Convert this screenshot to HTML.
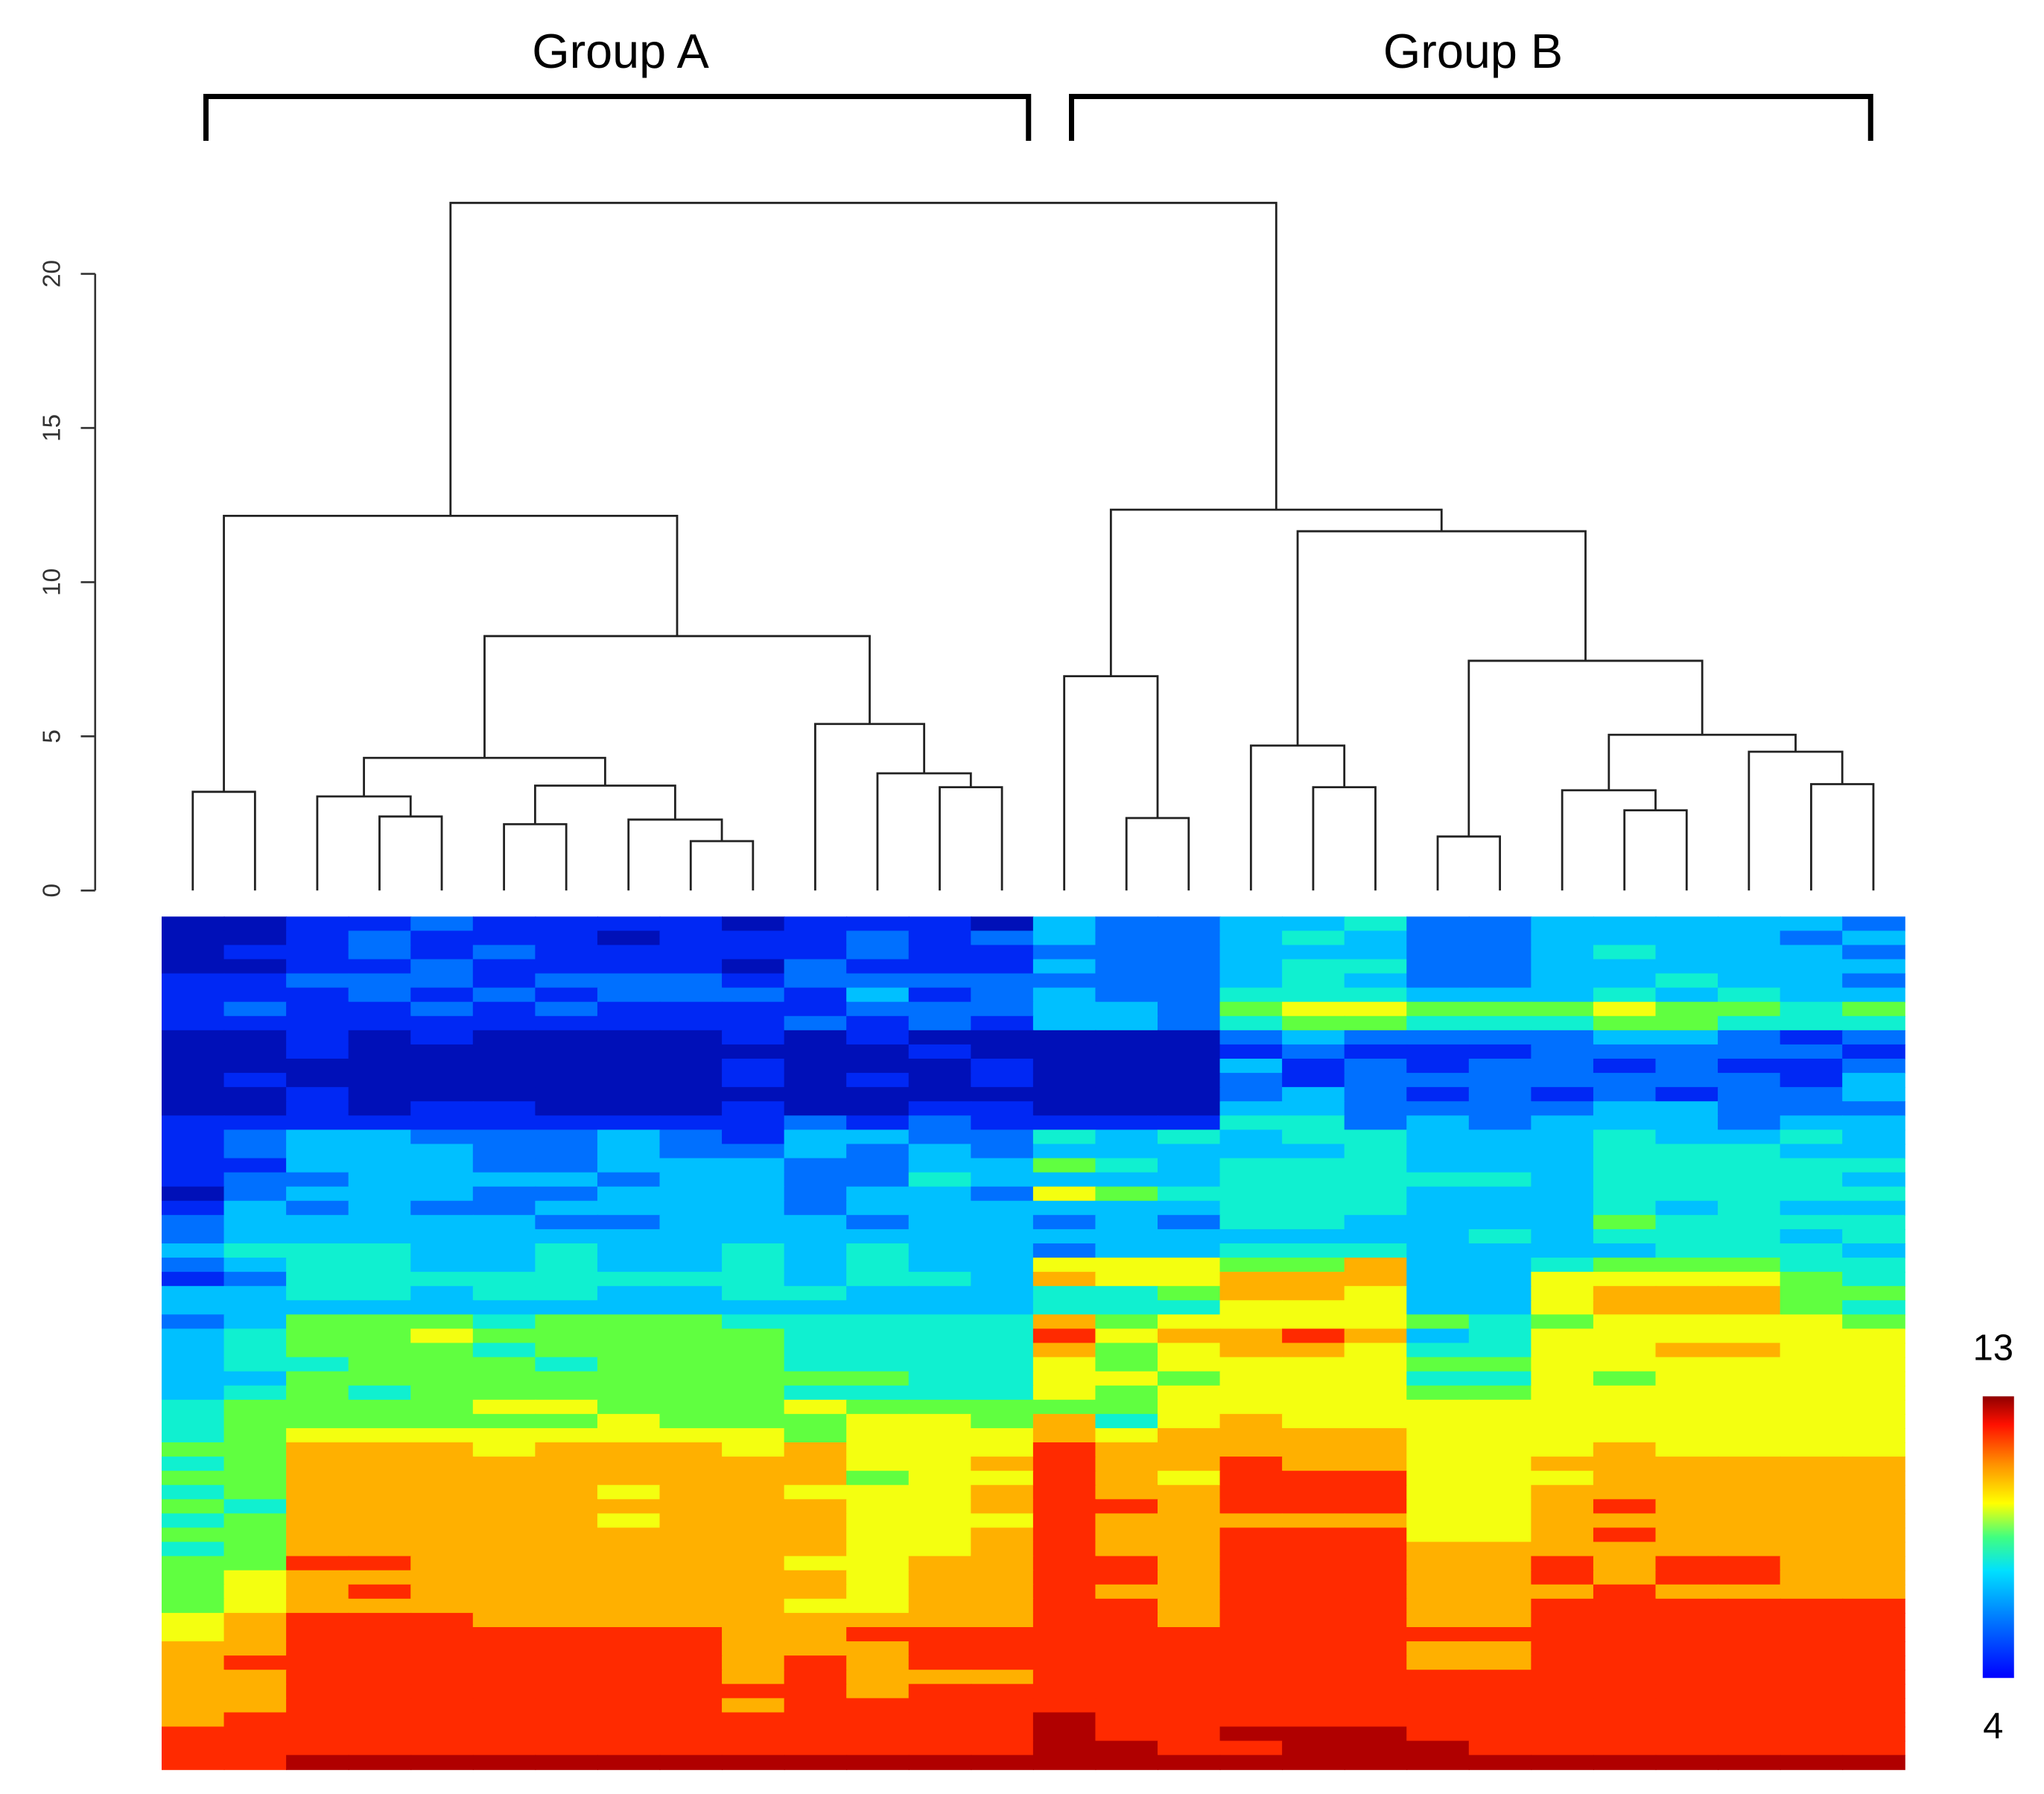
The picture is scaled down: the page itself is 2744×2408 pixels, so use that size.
<!DOCTYPE html>
<html><head><meta charset="utf-8"><style>
html,body{margin:0;padding:0;background:#fff;}
svg{display:block;}
</style></head><body>
<svg id="chart" width="2744" height="2408" viewBox="0 0 1568 1376" preserveAspectRatio="none" xmlns="http://www.w3.org/2000/svg" font-family="'Liberation Sans', sans-serif">
<rect width="1568" height="1376" fill="#fff"/>
<g fill="none" stroke="#000" stroke-width="4">
<path d="M158,108 V74 H789 V108"/></g>
<text x="476" y="52" font-size="37" text-anchor="middle">Group A</text>
<g fill="none" stroke="#000" stroke-width="4">
<path d="M822,108 V74 H1435 V108"/></g>
<text x="1130" y="52" font-size="37" text-anchor="middle">Group B</text>
<g id="axis"></g>
<g id="dendro"></g>
<g id="heat"></g>
<defs><linearGradient id="lg" x1="0" y1="1" x2="0" y2="0">
<stop offset="0" stop-color="#0000ff"/><stop offset="0.22" stop-color="#0080ff"/><stop offset="0.38" stop-color="#00e0ff"/><stop offset="0.5" stop-color="#40ff80"/><stop offset="0.62" stop-color="#ffff00"/><stop offset="0.76" stop-color="#ff9000"/><stop offset="0.9" stop-color="#ff1000"/><stop offset="1" stop-color="#900000"/></linearGradient></defs>
<rect x="1521" y="1071" width="24" height="216" fill="url(#lg)"/>
<text x="1529" y="1043" font-size="28" text-anchor="middle">13</text>
<text x="1529" y="1333" font-size="28" text-anchor="middle">4</text>
</svg>
<script>
const yTicks=[0,5,10,15,20];
const leafCount=28;
// merges: [left id, right id, height]; ids 0..27 leaves, merge m has id 28+m
const mergeLeft=[0,3,2,5,8,7,31,30,12,11,10,35,28,15,14,18,17,20,23,22,26,25,47,45,44,42,40];
const mergeRight=[1,4,29,6,9,32,33,34,13,36,37,38,39,16,41,19,43,21,24,46,27,48,49,50,51,52,53];
const mergeHeight=[3.2,2.4,3.05,2.15,1.6,2.3,3.4,4.3,3.35,3.8,5.4,8.25,12.15,2.35,6.95,3.35,4.7,1.75,2.6,3.25,3.45,4.5,5.05,7.45,11.65,12.35,22.3];
const heatRows=[
"0011211110111032233422333332","0012111011121232234322333323","0112121111121122233322343332","0011211110211132234422333333",
"1122212221222222234322334332","1112121222131232244433343433","1211212111122233256655565545","1111111111212133245544455444",
"0010100001010000023222233212","0010000000001000012111222221","0000000001000100031212212112","0100000001010100021222222213",
"0010000000000000023212121223","0010110001001100033222233222","1111111111212111144232333233","1233222321332243434433343343",
"1233322322323233333433344433","1133322333223354344433344444","1223333233224333344444344443","0233322333233265444433344444",
"1323223333233333344433343433","2333332233323323244333354444","2333333333333333333334344434","3444334334343323344433334443",
"2344334334343366655733455544","1244444444344376677733666654","3344344334433344577633677755","3333333333333344466633677754",
"2355545554444475666654566665","3455655555444486778734666666","3455545555444475677644667766","3445554555444465666655666666",
"3355555555554466566644656666","3454555555444465666655666666","4555566555655555666666666666","4555555655566574676666666666",
"4566666666566676777766666666","5577767776766687777766676666","4577777777766787787766777777","5577777777756687688866677777",
"4577777677666787788866777777","5477777777766788788866787777","4577777677766687777766777777","5577777777766787788866787777",
"4577777777766787788877777777","5588777777667788788877878877","5677777777767788788877878877","5678777777767787788877787777",
"5677777777667788788877888888","6788877777777788788877888888","6788888887788888888888888888","7788888887778888888877888888",
"7888888887878888888877888888","7788888887877788888888888888","7788888888878888888888888888","7788888887888888888888888888",
"7888888888888898888888888888","8888888888888898899988888888","8888888888888899889998888888","8899999999999999999999999999"];
const NS="http://www.w3.org/2000/svg";
const X0=124,X1=1461,HY0=703,HY1=1357;
const colW=(X1-X0)/leafCount;
const yScale=v=>683-v*23.65;
const leafX=i=>X0+colW*(i+0.5);
const colors=["#0010b8","#0028f4","#0070ff","#00c0ff","#10f0d0","#60ff40","#f4ff10","#ffb000","#ff2a00","#b00000"];
function mk(tag,attrs,parent){const e=document.createElementNS(NS,tag);for(const k in attrs)e.setAttribute(k,attrs[k]);parent.appendChild(e);return e;}
const ax=document.getElementById('axis');
const al=mk('line',{x1:73,x2:73,y1:yScale(20),y2:yScale(0),stroke:'#333','stroke-width':1.5},ax);


yTicks.forEach(t=>{
 const tl=mk('line',{x1:62,x2:73,y1:yScale(t),y2:yScale(t),stroke:'#333','stroke-width':1.5},ax);
 
 
 const tx=mk('text',{x:0,y:0,'font-size':19,fill:'#333','text-anchor':'middle',transform:`translate(46,${yScale(t)}) rotate(-90)`},ax);
 tx.textContent=t;
 
 
});
const dg=document.getElementById('dendro');
const nodeX=[],nodeH=[];
for(let i=0;i<leafCount;i++){nodeX[i]=leafX(i);nodeH[i]=0;}
for(let m=0;m<mergeHeight.length;m++){
 const a=mergeLeft[m],b=mergeRight[m],h=mergeHeight[m],id=leafCount+m;
 nodeX[id]=(nodeX[a]+nodeX[b])/2;nodeH[id]=h;
 const p=mk('path',{d:`M${nodeX[a]},${yScale(nodeH[a])} V${yScale(h)} H${nodeX[b]} V${yScale(nodeH[b])}`,fill:'none',stroke:'#222','stroke-width':1.6},dg);
 
 
}
const hg=document.getElementById('heat');
const rowH=(HY1-HY0)/heatRows.length;
heatRows.forEach((row,r)=>{
 for(let c=0;c<leafCount;c++){
  const v=+row[c];
  const rc=mk('rect',{x:X0+c*colW,y:HY0+r*rowH,width:colW+0.6,height:rowH+0.6,fill:colors[v]},hg);
  
  
 }
});
</script>
</body></html>
